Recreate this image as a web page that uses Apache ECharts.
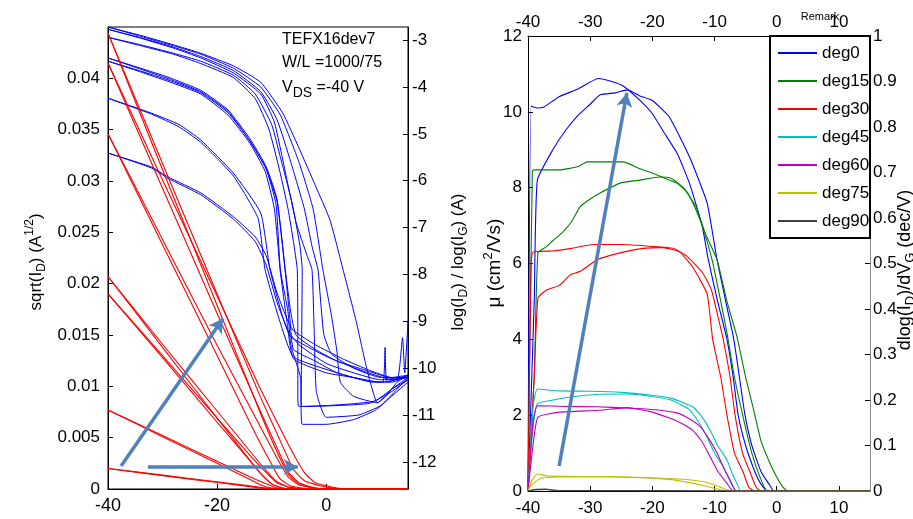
<!DOCTYPE html>
<html><head><meta charset="utf-8">
<script src="https://cdn.jsdelivr.net/npm/echarts@6/dist/echarts.min.js"></script>
<style>html,body{margin:0;padding:0;background:#fff}#c{width:913px;height:519px}</style>
</head><body><div id="c"></div>
<script>
const FONT = '"Liberation Sans", Arial, Helvetica, sans-serif';

// ---- tick labels ----
const leftVgTicks = [-40, -20, 0];
const sqrtTicks = [0, 0.005, 0.01, 0.015, 0.02, 0.025, 0.03, 0.035, 0.04];
const logTicks = [-12, -11, -10, -9, -8, -7, -6, -5, -4, -3];
const rightVgTicks = [-40, -30, -20, -10, 0, 10];
const legendNames = ['deg0', 'deg15', 'deg30', 'deg45', 'deg60', 'deg75', 'deg90'];

// ---- left panel: sqrt(I_D) (red), two sweeps per device ----
const sqrt_deg0_a = [[-40,0.0444],[-30,0.0317],[-20,0.019],[-12,0.0089],[-8,0.0042],[-6,0.0019],[-4,0.0008],[-1,0.0003],[3,0],[15,0]];
const sqrt_deg0_b = [[-40,0.0444],[-30,0.0311],[-20,0.0179],[-12,0.0073],[-9,0.0036],[-7,0.0015],[-5,0.0005],[-2,0.0001],[1,0],[15,0]];
const sqrt_deg15_a = [[-40,0.0415],[-30,0.0301],[-20,0.0188],[-12,0.0097],[-7,0.0044],[-4,0.0016],[-2,0.0006],[1,0.0002],[4,0],[15,0]];
const sqrt_deg15_b = [[-40,0.0415],[-30,0.0293],[-20,0.0171],[-12,0.0075],[-9,0.004],[-7,0.0017],[-5,0.0006],[-2,0.0001],[1,0],[15,0]];
const sqrt_deg30_a = [[-40,0.0346],[-30,0.0243],[-20,0.014],[-12,0.006],[-9,0.003],[-7,0.0012],[-5,0.0004],[-2,0.0001],[0,0],[15,0]];
const sqrt_deg30_b = [[-40,0.0346],[-30,0.0238],[-20,0.013],[-13,0.0054],[-10,0.0024],[-8.5,0.001],[-6.5,0.0003],[-3,0],[15,0]];
const sqrt_deg45_a = [[-40,0.0207],[-30,0.0141],[-20,0.0076],[-14,0.0037],[-11,0.0018],[-9,0.0007],[-7,0.0002],[-4,0],[15,0]];
const sqrt_deg45_b = [[-40,0.0207],[-30,0.0138],[-20,0.0069],[-15,0.0035],[-12,0.0015],[-10,0.0005],[-8,0.0001],[-5,0],[15,0]];
const sqrt_deg60_a = [[-40,0.019],[-30,0.013],[-20,0.0069],[-14,0.0033],[-11,0.0016],[-9,0.0006],[-7,0.0002],[-4,0],[15,0]];
const sqrt_deg60_b = [[-40,0.019],[-30,0.0128],[-20,0.0065],[-15,0.0034],[-12,0.0015],[-10,0.0005],[-8,0.0001],[-5,0],[15,0]];
const sqrt_deg75_a = [[-40,0.0077],[-30,0.0052],[-20,0.0027],[-14,0.0012],[-11,0.0005],[-9,0.0001],[-6,0],[15,0]];
const sqrt_deg75_b = [[-40,0.0077],[-30,0.0051],[-20,0.0025],[-15,0.0012],[-12,0.0004],[-10,0.0001],[-7,0],[15,0]];
const sqrt_deg90_a = [[-40,0.002],[-30,0.00135],[-20,0.0007],[-14,0.0003],[-11,0.0001],[-8,0],[15,0]];
const sqrt_deg90_b = [[-40,0.002],[-30,0.0013],[-20,0.00063],[-15,0.0003],[-12,0.00008],[-9,0],[15,0]];

// ---- left panel: log(I_D) (blue) ----
const log_deg0_a = [[-40,-2.72],[-34,-2.9],[-28,-3.1],[-23,-3.28],[-17,-3.55],[-12,-3.9],[-8,-4.55],[-5,-5.3],[-2,-6.1],[0.7,-6.84],[3.1,-7.9],[5.5,-9.0],[7.5,-10.04],[9.4,-10.74],[11,-10.6],[13,-10.3],[15,-10.15]];
const log_deg0_b = [[-40,-2.72],[-34,-2.92],[-28,-3.12],[-23,-3.3],[-17,-3.6],[-12,-4.0],[-8.4,-4.6],[-5,-5.6],[-2.4,-6.6],[-0.6,-7.9],[1,-8.9],[2,-9.67],[2.6,-10.3],[5,-10.6],[9.4,-10.74],[12,-10.45],[15,-10.2]];
const log_deg15_a = [[-40,-2.77],[-34,-2.95],[-28,-3.15],[-23,-3.35],[-17,-3.65],[-12,-4.1],[-9,-4.7],[-6.5,-5.6],[-4,-6.6],[-2.6,-7.4],[-1.5,-7.9],[-1,-8.6],[-0.4,-9.3],[1,-9.7],[5,-10.0],[10,-10.2],[15,-10.2]];
const log_deg15_b = [[-40,-2.77],[-34,-2.96],[-28,-3.17],[-23,-3.38],[-17,-3.7],[-12,-4.15],[-9.5,-4.75],[-7.2,-5.98],[-5.5,-6.9],[-3.5,-7.6],[-2.6,-7.9],[-2.2,-9.2],[-1.8,-10.5],[0,-11.05],[6,-11.0],[10,-10.8],[13,-10.45],[15,-10.2]];
const log_deg30_a = [[-40,-2.94],[-34,-3.1],[-28,-3.28],[-23,-3.45],[-17,-3.75],[-13,-4.15],[-10,-4.8],[-8.4,-5.5],[-6.2,-6.5],[-4.8,-7.4],[-4.4,-7.9],[-4.5,-9.5],[-4.6,-10.8],[-4.4,-11.2],[0,-11.2],[5,-11.1],[9,-10.9],[12,-10.6],[15,-10.3]];
const log_deg30_b = [[-40,-2.94],[-34,-3.12],[-28,-3.3],[-23,-3.5],[-17,-3.8],[-13,-4.25],[-10.5,-4.9],[-8.5,-5.8],[-7,-6.6],[-6,-7.3],[-5.3,-7.9],[-5.2,-9.3],[-5.2,-10.6],[-5,-10.82],[0,-10.8],[5,-10.76],[9,-10.7],[12,-10.45],[15,-10.25]];
const log_deg45_a = [[-40,-3.38],[-34,-3.6],[-29,-3.79],[-23,-4.07],[-18,-4.49],[-14,-5.1],[-11,-5.7],[-9,-6.4],[-7.5,-7.9],[-6.5,-8.8],[-5.5,-9.3],[-2,-9.6],[2,-9.85],[6,-10.0],[10,-10.15],[13,-10.25],[14,-9.35],[14.4,-10.1],[15,-9.0]];
const log_deg45_b = [[-40,-3.38],[-34,-3.62],[-29,-3.82],[-23,-4.1],[-18,-4.52],[-14,-5.15],[-11,-5.75],[-9.2,-6.5],[-8.4,-7.9],[-7,-8.8],[-6.5,-9.5],[-4.7,-10.2],[-4.5,-10.82],[2,-10.8],[8,-10.75],[12,-10.5],[15,-10.25]];
const log_deg60_a = [[-40,-3.45],[-34,-3.66],[-29,-3.85],[-23,-4.12],[-18,-4.55],[-14,-5.15],[-11,-5.75],[-9,-6.45],[-7.5,-7.95],[-6.6,-9.0],[-6,-9.6],[-2,-9.85],[2,-10.1],[8,-10.29],[10.4,-10.3],[10.8,-9.56],[11.2,-10.3],[15,-10.15]];
const log_deg60_b = [[-40,-3.45],[-34,-3.68],[-29,-3.88],[-23,-4.15],[-18,-4.6],[-14,-5.2],[-11.2,-5.8],[-9.5,-6.6],[-8.4,-7.95],[-7.2,-9.0],[-6,-9.8],[0,-10.1],[5,-10.2],[10,-10.3],[15,-10.2]];
const log_deg75_a = [[-40,-4.24],[-32,-4.56],[-27,-4.8],[-23,-5.13],[-17,-5.84],[-12,-6.69],[-10.3,-7.9],[-8,-8.9],[-6.5,-9.33],[0.2,-9.76],[6.2,-10.04],[12.3,-10.25],[15,-10.15]];
const log_deg75_b = [[-40,-4.24],[-32,-4.58],[-27,-4.85],[-23,-5.18],[-17,-5.9],[-12.5,-6.8],[-11.2,-7.9],[-8.5,-9.0],[-6,-9.76],[2,-10.1],[8,-10.29],[12,-10.3],[15,-10.18]];
const log_deg90_a = [[-40,-5.41],[-32,-5.71],[-29,-5.92],[-23,-6.26],[-17,-6.77],[-13,-7.2],[-11,-7.6],[-9,-8.4],[-7,-9.0],[-6,-9.2],[-2,-9.5],[3,-9.8],[8,-10.05],[12,-10.2],[15,-10.15]];
const log_deg90_b = [[-40,-5.41],[-32,-5.73],[-29,-5.95],[-23,-6.3],[-17,-6.82],[-13,-7.3],[-11,-7.8],[-9,-8.6],[-7,-9.2],[-5,-9.5],[0,-9.9],[5,-10.1],[10,-10.25],[15,-10.2]];

// ---- right panel: mobility ----
const mu_deg0_a = [[-40,0],[-39.5,10.15],[-38.5,10.1],[-37.5,10.12],[-35,10.4],[-32,10.6],[-28.7,10.88],[-26.5,10.8],[-24.7,10.68],[-22,10.3],[-20,9.95],[-18.3,9.5],[-16,8.9],[-14,8.1],[-12,7.0],[-11,6.1],[-9.5,5.0],[-8,4.0],[-7,3.0],[-6.2,2.0],[-5,1.2],[-3.5,0.5],[-2.6,0.2],[-1.5,0],[15,0]];
const mu_deg0_b = [[-40,0],[-39,5],[-38.5,8.2],[-36,9.0],[-34,9.5],[-32,9.9],[-30,10.2],[-28.4,10.45],[-26,10.5],[-24,10.58],[-22,10.42],[-20,10.3],[-17.3,9.87],[-14,8.8],[-11.2,7.6],[-9.6,6.1],[-8.2,5.0],[-6.9,4.0],[-6,3.0],[-5.1,2.0],[-4,1.2],[-2.5,0.5],[-1.1,0.15],[-0.5,0],[15,0]];
const mu_deg15_a = [[-40,0],[-39.3,8.45],[-38.6,8.47],[-35,8.47],[-32,8.55],[-30.5,8.68],[-24.7,8.68],[-22,8.5],[-19.9,8.38],[-18,8.25],[-16.1,8.12],[-14.5,7.9],[-13.5,7.6],[-12,7.0],[-10.4,6.1],[-9,5.0],[-8,4.17],[-6.8,3.0],[-5.4,1.95],[-4,1.0],[-2.7,0.37],[-1.5,0],[15,0]];
const mu_deg15_b = [[-40,0],[-39,3],[-38.4,6.28],[-37,6.45],[-36,6.6],[-34.4,6.83],[-33,7.1],[-31.6,7.5],[-30,7.7],[-28.4,7.86],[-25.2,8.12],[-22,8.2],[-18.8,8.28],[-17,8.25],[-15,8.0],[-13,7.5],[-11.5,6.8],[-9.6,6.1],[-8,5.0],[-6.4,4.07],[-5,3.0],[-3.8,2.2],[-2.5,1.3],[-1,0.7],[0,0.37],[1,0.1],[1.8,0],[15,0]];
const mu_deg30_a = [[-40,0],[-39.5,6.0],[-39.2,6.3],[-36,6.33],[-33,6.4],[-29.5,6.5],[-25,6.5],[-20,6.45],[-16.7,6.4],[-14.5,6.2],[-11.9,5.75],[-10.5,5.3],[-9.6,4.7],[-8.6,4.0],[-7.5,3.0],[-6.7,2.0],[-5.5,1.0],[-4.3,0.5],[-3.3,0.1],[-2.5,0],[15,0]];
const mu_deg30_b = [[-40,0],[-39,3],[-38.4,5.09],[-37,5.3],[-34.9,5.43],[-33.2,5.7],[-31.5,5.8],[-28.9,6.1],[-25.2,6.28],[-21.5,6.4],[-18.3,6.42],[-15.6,6.3],[-13.5,5.9],[-11.2,5.2],[-10.3,4.0],[-9,3.0],[-8,2.0],[-6.8,1.0],[-5.4,0.5],[-4.5,0.1],[-3.5,0],[15,0]];
const mu_deg45_a = [[-40,0],[-39.2,2.2],[-38.5,2.69],[-35,2.64],[-30,2.63],[-25,2.6],[-20.4,2.53],[-17,2.45],[-13.5,2.22],[-12,1.95],[-10.7,1.6],[-9.5,1.2],[-8,0.82],[-7,0.4],[-6.4,0.2],[-5.8,0],[15,0]];
const mu_deg45_b = [[-40,0],[-39.3,1.5],[-38.5,2.3],[-36,2.4],[-33.2,2.48],[-28.5,2.55],[-24,2.56],[-20.4,2.5],[-17,2.4],[-14,2.14],[-12.5,1.8],[-11.2,1.42],[-10,1.0],[-8.6,0.64],[-7.5,0.25],[-6.5,0],[15,0]];
const mu_deg60_a = [[-40,0],[-39.2,1.8],[-38.5,2.25],[-34,2.23],[-29,2.22],[-24.1,2.19],[-20,2.15],[-16.1,2.06],[-14,1.9],[-12.3,1.7],[-11,1.4],[-9.6,1.0],[-8.5,0.6],[-7.5,0.29],[-6.5,0],[15,0]];
const mu_deg60_b = [[-40,0],[-39.2,1.2],[-38.4,1.95],[-34.9,2.08],[-28.5,2.13],[-24,2.2],[-20.5,2.1],[-17.7,1.95],[-15.5,1.8],[-13.5,1.6],[-12,1.3],[-10.7,0.9],[-9.4,0.5],[-8,0.2],[-7,0],[15,0]];
const mu_deg75_a = [[-40,0],[-39.3,0.3],[-38.5,0.45],[-37,0.4],[-30,0.38],[-25,0.37],[-20,0.35],[-15,0.31],[-12,0.25],[-10,0.16],[-8.5,0.06],[-7,0],[15,0]];
const mu_deg75_b = [[-40,0],[-39.5,0.15],[-38,0.33],[-35,0.37],[-28,0.38],[-22,0.35],[-17,0.3],[-14,0.22],[-12,0.15],[-10,0.07],[-8,0],[15,0]];
const mu_deg90_a = [[-40,0],[-39,0.04],[-37,0.05],[-36,0.02],[-30,0.01],[-20,0.01],[-10,0],[15,0]];
const mu_deg90_b = [[-40,0],[-39,0.03],[-37,0.04],[-35,0.01],[-25,0.005],[-10,0],[15,0]];

// ---- annotation arrows (data coordinates) ----
const arrowLeftUp = [[-37.6, 0.00224], [-18.9, 0.0166]];
const arrowLeftRight = [[-32.7, 0.00214], [-5.2, 0.00214]];
const arrowRightUp = [[-35.0, 0.66], [-24.1, 10.5]];

const colors = ['#0000ff', '#008000', '#ff0000', '#00bfbf', '#bf00bf', '#bfbf00', '#404040'];

const chart = echarts.init(document.getElementById('c'), null, {renderer: 'canvas'});

function line(name, data, xi, yi, color, width, z) {
  return {
    name, type: 'line', data, xAxisIndex: xi, yAxisIndex: yi,
    showSymbol: false, symbol: 'none', smooth: 0.15, silent: true, z: z || 2,
    lineStyle: {color, width: width || 1}, itemStyle: {color},
    emphasis: {disabled: true}, animation: false
  };
}
function arrowML(pts) {
  return [{coord: pts[0]}, {coord: pts[1]}];
}

const redSets = [sqrt_deg0_a, sqrt_deg0_b, sqrt_deg15_a, sqrt_deg15_b, sqrt_deg30_a, sqrt_deg30_b, sqrt_deg45_a, sqrt_deg45_b, sqrt_deg60_a, sqrt_deg60_b, sqrt_deg75_a, sqrt_deg75_b, sqrt_deg90_a, sqrt_deg90_b];
const blueSets = [log_deg0_a, log_deg0_b, log_deg15_a, log_deg15_b, log_deg30_a, log_deg30_b, log_deg45_a, log_deg45_b, log_deg60_a, log_deg60_b, log_deg75_a, log_deg75_b, log_deg90_a, log_deg90_b];
const muSets = [[mu_deg0_a, mu_deg0_b], [mu_deg15_a, mu_deg15_b], [mu_deg30_a, mu_deg30_b], [mu_deg45_a, mu_deg45_b], [mu_deg60_a, mu_deg60_b], [mu_deg75_a, mu_deg75_b], [mu_deg90_a, mu_deg90_b]];

const series = [];
blueSets.forEach((d, i) => series.push(line('logI_' + i, d, 0, 1, '#0000ff', 1)));
redSets.forEach((d, i) => series.push(line('sqrtI_' + i, d, 0, 0, '#ff0000', 1.1)));
muSets.forEach((pair, k) => {
  pair.forEach(d => series.push(line(legendNames[k], d, 1, 2, colors[k], 1.1)));
});

const arrowStyle = {color: '#4f81bd', width: 3.5, type: 'solid'};
series.push({
  name: 'arrowsL', type: 'line', data: [], xAxisIndex: 0, yAxisIndex: 0, silent: true,
  markLine: {silent: true, symbol: ['none', 'arrow'], symbolSize: [12, 14], label: {show: false},
    lineStyle: arrowStyle, emphasis: {disabled: true}, animation: false,
    data: [arrowML(arrowLeftUp), arrowML(arrowLeftRight)]},
  z: 5
});
series.push({
  name: 'arrowsR', type: 'line', data: [], xAxisIndex: 1, yAxisIndex: 2, silent: true,
  markLine: {silent: true, symbol: ['none', 'arrow'], symbolSize: [12, 14], label: {show: false},
    lineStyle: arrowStyle, emphasis: {disabled: true}, animation: false,
    data: [arrowML(arrowRightUp)]},
  z: 5
});

const blk = '#000';
function axisCommon(fs, lineColor) {
  return {
    axisLine: {show: true, onZero: false, lineStyle: {color: lineColor || blk, width: 1}},
    axisTick: {show: true, inside: true, length: 5, lineStyle: {color: blk}},
    axisLabel: {color: blk, fontSize: fs, fontFamily: FONT, hideOverlap: false},
    splitLine: {show: false}
  };
}

const xL = axisCommon(18);
const yLL = axisCommon(17);
const yLR = axisCommon(17);
const xRB = axisCommon(17);
const xRT = axisCommon(17);
const yRL = axisCommon(17);
const yRR = axisCommon(17, '#888');

const option = {
  backgroundColor: '#fff',
  animation: false,
  grid: [
    {left: 108, top: 27, width: 300, height: 462, show: true, borderColor: blk, borderWidth: 1, backgroundColor: 'transparent'},
    {left: 528, top: 36, width: 342, height: 455, show: false}
  ],
  xAxis: [
    Object.assign({}, xL, {gridIndex: 0, type: 'value', position: 'bottom', min: -40, max: 15,
      axisTick: Object.assign({}, xL.axisTick, {customValues: leftVgTicks}),
      axisLabel: Object.assign({}, xL.axisLabel, {customValues: leftVgTicks, margin: 8})}),
    Object.assign({}, xRB, {gridIndex: 1, type: 'value', position: 'bottom', min: -40, max: 15,
      axisTick: Object.assign({}, xRB.axisTick, {customValues: rightVgTicks}),
      axisLabel: Object.assign({}, xRB.axisLabel, {customValues: rightVgTicks, margin: 9})}),
    Object.assign({}, xRT, {gridIndex: 1, type: 'value', position: 'top', min: -40, max: 15,
      axisTick: Object.assign({}, xRT.axisTick, {customValues: rightVgTicks}),
      axisLabel: Object.assign({}, xRT.axisLabel, {customValues: rightVgTicks, margin: 5})})
  ],
  yAxis: [
    Object.assign({}, yLL, {gridIndex: 0, type: 'value', position: 'left', min: 0, max: 0.045,
      axisTick: Object.assign({}, yLL.axisTick, {customValues: sqrtTicks}),
      axisLabel: Object.assign({}, yLL.axisLabel, {customValues: sqrtTicks, margin: 8})}),
    Object.assign({}, yLR, {gridIndex: 0, type: 'value', position: 'right', min: -12.58, max: -2.72,
      axisTick: Object.assign({}, yLR.axisTick, {customValues: logTicks}),
      axisLabel: Object.assign({}, yLR.axisLabel, {customValues: logTicks, margin: 4})}),
    Object.assign({}, yRL, {gridIndex: 1, type: 'value', position: 'left', min: 0, max: 12, interval: 2,
      axisLabel: Object.assign({}, yRL.axisLabel, {margin: 6})}),
    Object.assign({}, yRR, {gridIndex: 1, type: 'value', position: 'right', min: 0, max: 1, interval: 0.1,
      axisLabel: Object.assign({}, yRR.axisLabel, {margin: 3})})
  ],
  legend: {
    orient: 'vertical', left: 778, top: 43, padding: 0,
    itemWidth: 39, itemHeight: 2, itemGap: 8, icon: 'rect', selectedMode: false,
    textStyle: {fontSize: 17, fontFamily: FONT, color: blk, lineHeight: 20},
    data: legendNames, z: 6
  },
  graphic: [
    {type: 'rect', z: 1, shape: {x: 770, y: 36, width: 100, height: 202},
      style: {fill: '#fff', stroke: blk, lineWidth: 2}},
    // axis titles
    {type: 'text', x: 36, y: 262, rotation: Math.PI / 2, z: 10,
      style: {text: 'sqrt(I{sub|D}) (A{sup|1/2})', fontSize: 17, fontFamily: FONT, fill: blk,
        align: 'center', verticalAlign: 'middle', textAlign: 'center', textVerticalAlign: 'middle', lineHeight: 24,
        rich: {sub: {fontSize: 12, fontFamily: FONT, verticalAlign: 'bottom', lineHeight: 12},
               sup: {fontSize: 12, fontFamily: FONT, verticalAlign: 'top', lineHeight: 12}}}},
    {type: 'text', x: 458, y: 262, rotation: Math.PI / 2, z: 10,
      style: {text: 'log(I{sub|D}) / log(I{sub|G}) (A)', fontSize: 17, fontFamily: FONT, fill: blk,
        align: 'center', verticalAlign: 'middle', textAlign: 'center', textVerticalAlign: 'middle', lineHeight: 24,
        rich: {sub: {fontSize: 12, fontFamily: FONT, verticalAlign: 'bottom', lineHeight: 12}}}},
    {type: 'text', x: 495, y: 263, rotation: Math.PI / 2, z: 10,
      style: {text: 'μ (cm{sup|2}/Vs)', fontSize: 19, fontFamily: FONT, fill: blk,
        align: 'center', verticalAlign: 'middle', textAlign: 'center', textVerticalAlign: 'middle', lineHeight: 26,
        rich: {sup: {fontSize: 13, fontFamily: FONT, verticalAlign: 'top', lineHeight: 13}}}},
    {type: 'text', x: 905, y: 270, rotation: Math.PI / 2, z: 10,
      style: {text: 'dlog(I{sub|D})/dV{sub|G} (dec/V)', fontSize: 18, fontFamily: FONT, fill: blk,
        align: 'center', verticalAlign: 'middle', textAlign: 'center', textVerticalAlign: 'middle', lineHeight: 24,
        rich: {sub: {fontSize: 13, fontFamily: FONT, verticalAlign: 'bottom', lineHeight: 13}}}},
    // annotations
    {type: 'text', x: 282, y: 40, z: 10,
      style: {text: 'TEFX16dev7', fontSize: 16, fontFamily: FONT, fill: blk,
        align: 'left', verticalAlign: 'middle', textAlign: 'left', textVerticalAlign: 'middle'}},
    {type: 'text', x: 282, y: 63, z: 10,
      style: {text: 'W/L =1000/75', fontSize: 16, fontFamily: FONT, fill: blk,
        align: 'left', verticalAlign: 'middle', textAlign: 'left', textVerticalAlign: 'middle'}},
    {type: 'text', x: 282, y: 88, z: 10,
      style: {text: 'V{sub|DS} =-40 V', fontSize: 16, fontFamily: FONT, fill: blk, lineHeight: 24,
        align: 'left', verticalAlign: 'middle', textAlign: 'left', textVerticalAlign: 'middle',
        rich: {sub: {fontSize: 14, fontFamily: FONT, verticalAlign: 'bottom', lineHeight: 13}}}},
    {type: 'text', x: 820, y: 17, z: 10,
      style: {text: 'Remark', fontSize: 11, fontFamily: FONT, fill: blk,
        align: 'center', verticalAlign: 'middle', textAlign: 'center', textVerticalAlign: 'middle'}}
  ],
  series
};
chart.setOption(option);
</script></body></html>
